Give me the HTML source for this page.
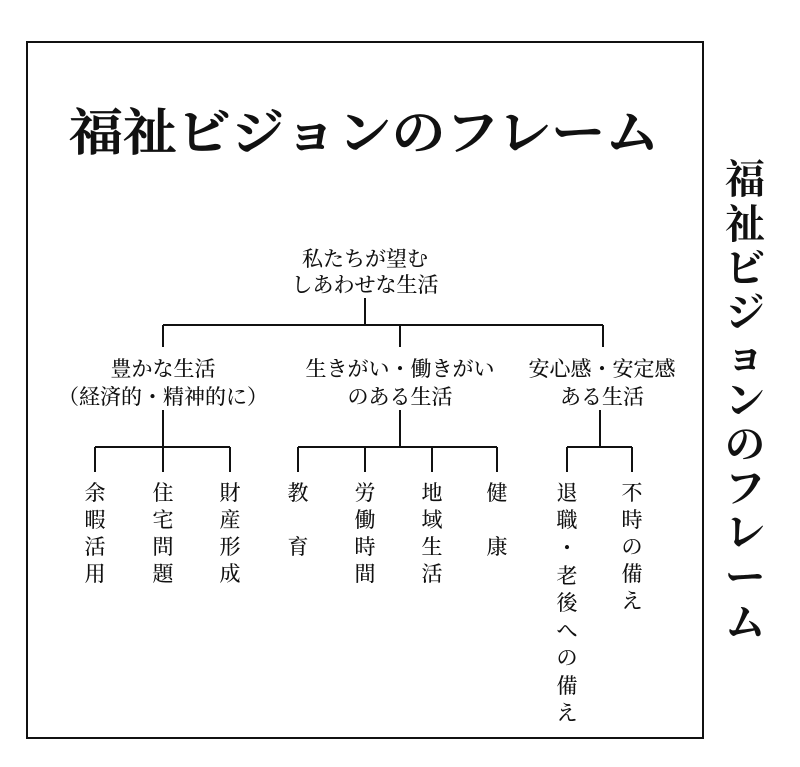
<!DOCTYPE html>
<html><head><meta charset="utf-8"><style>
html,body{margin:0;padding:0;background:#fff;}
svg{display:block;}
text{font-family:"Liberation Serif","Noto Serif CJK SC","Noto Sans CJK JP",serif;fill:#111;}
.b{font-family:"Liberation Sans","Noto Sans CJK JP",sans-serif;font-size:21px;font-weight:500;}
</style></head><body>
<svg width="800" height="767" viewBox="0 0 800 767" xmlns="http://www.w3.org/2000/svg">
<rect x="27" y="42" width="676" height="696" fill="none" stroke="#111" stroke-width="2"/>
<text x="364" y="150" font-size="50" font-weight="600" stroke="#111" stroke-width="0.8" text-anchor="middle" textLength="590" lengthAdjust="spacingAndGlyphs">福祉ビジョンのフレーム</text>
<g font-size="40" font-weight="bold" text-anchor="middle">
<text x="745" y="193">福</text><text x="745" y="238">祉</text><text x="745" y="282">ビ</text>
<text x="745" y="326">ジ</text><text x="745" y="370">ョ</text><text x="745" y="414">ン</text>
<text x="745" y="458">の</text><text x="745" y="502">フ</text><text x="745" y="546">レ</text>
<text x="745" y="591">ー</text><text x="745" y="636">ム</text>
</g>
<g class="b" text-anchor="middle">
<text x="365" y="266">私たちが望む</text>
<text x="365" y="292">しあわせな生活</text>
<text x="163" y="376">豊かな生活</text>
<text x="163" y="404">（経済的・精神的に）</text>
<text x="400" y="376">生きがい・働きがい</text>
<text x="400" y="404">のある生活</text>
<text x="602" y="376">安心感・安定感</text>
<text x="602" y="404">ある生活</text>
</g>
<g stroke="#111" stroke-width="2" fill="none">
<path d="M365 298V325M163 325H603M163 325V347M400 325V347M603 325V347"/>
<path d="M163 410V447M95 447H230M95 447V472M163 447V472M230 447V472"/>
<path d="M400 410V447M298 447H497M298 447V472M365 447V472M432 447V472M497 447V472"/>
<path d="M600 410V447M567 447H632M567 447V472M632 447V472"/>
</g>
<g class="b" text-anchor="middle">
<text x="95" y="500">余</text><text x="95" y="527">暇</text><text x="95" y="554">活</text><text x="95" y="581">用</text>
<text x="163" y="500">住</text><text x="163" y="527">宅</text><text x="163" y="554">問</text><text x="163" y="581">題</text>
<text x="230" y="500">財</text><text x="230" y="527">産</text><text x="230" y="554">形</text><text x="230" y="581">成</text>
<text x="298" y="500">教</text><text x="298" y="554">育</text>
<text x="365" y="500">労</text><text x="365" y="527">働</text><text x="365" y="554">時</text><text x="365" y="581">間</text>
<text x="432" y="500">地</text><text x="432" y="527">域</text><text x="432" y="554">生</text><text x="432" y="581">活</text>
<text x="497" y="500">健</text><text x="497" y="554">康</text>
<text x="567" y="500">退</text><text x="567" y="527">職</text><text x="567" y="555">・</text><text x="567" y="583">老</text><text x="567" y="610">後</text><text x="567" y="638">へ</text><text x="567" y="665">の</text><text x="567" y="693">備</text><text x="567" y="720">え</text>
<text x="632" y="500">不</text><text x="632" y="527">時</text><text x="632" y="554">の</text><text x="632" y="581">備</text><text x="632" y="608">え</text>
</g>
</svg>
</body></html>
